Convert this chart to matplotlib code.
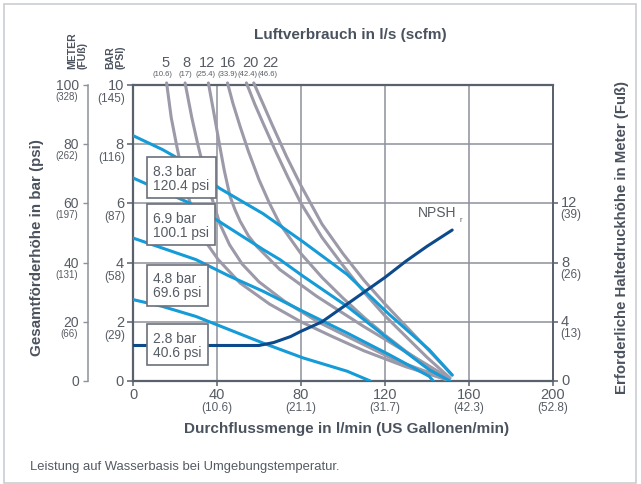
import matplotlib
matplotlib.use('Agg')
import matplotlib.pyplot as plt
from matplotlib.patches import Rectangle

plt.rcParams['font.family'] = ['Liberation Sans', 'DejaVu Sans']

# ---------------- data ----------------
flow_ticks = [0, 40, 80, 120, 160, 200]
gpm_labels = ['', '(10.6)', '(21.1)', '(31.7)', '(42.3)', '(52.8)']
bar_ticks = [0, 2, 4, 6, 8, 10]
psi_labels = ['', '(29)', '(58)', '(87)', '(116)', '(145)']
meter_ticks = [0, 20, 40, 60, 80, 100]
feet_labels = ['', '(66)', '(131)', '(197)', '(262)', '(328)']
npsh_ticks = [0, 4, 8, 12]
npsh_ft_labels = ['', '(13)', '(26)', '(39)']
air_ls = ['5', '8', '12', '16', '20', '22']
air_scfm = ['(10.6)', '(17)', '(25.4)', '(33.9)', '(42.4)', '(46.6)']

# air pressure curves (flow l/min, head bar)
p83_x = [0, 14, 22, 41, 62, 81, 102, 122, 141, 152]
p83_y = [8.29, 7.82, 7.5, 6.52, 5.65, 4.7, 3.6, 2.25, 1.06, 0.2]
p69_x = [0, 27, 41, 62, 70, 81, 102, 122, 141, 151]
p69_y = [6.86, 6.01, 5.39, 4.44, 4.1, 3.54, 2.52, 1.4, 0.38, 0.0]
p48_x = [0, 14, 30, 46, 62, 81, 102, 122, 141, 143]
p48_y = [4.83, 4.49, 4.1, 3.54, 3.03, 2.35, 1.62, 0.89, 0.16, 0.0]
p28_x = [0, 14, 30, 46, 62, 81, 102, 113]
p28_y = [2.75, 2.52, 2.18, 1.73, 1.28, 0.78, 0.33, 0.0]
pressure_labels = ['8.3 bar\n120.4 psi', '6.9 bar\n100.1 psi', '4.8 bar\n69.6 psi', '2.8 bar\n40.6 psi']

# air consumption curves (flow l/min, head bar)
a5_x = [16, 18.2, 20.8, 23, 26, 30, 35, 40.6, 51, 65, 80, 95, 110, 130, 149]
a5_y = [10.07, 8.9, 7.95, 7.2, 6.3, 5.4, 4.66, 4.1, 3.31, 2.6, 2.0, 1.5, 1.02, 0.48, 0.05]
a8_x = [24.8, 28, 31, 34, 37.5, 41.4, 46, 52, 60, 72, 88, 105, 125, 150]
a8_y = [10.07, 8.9, 7.95, 7.1, 6.2, 5.3, 4.6, 3.95, 3.35, 2.7, 2.0, 1.4, 0.7, 0.05]
a12_x = [35.9, 38.8, 41.4, 43.5, 46.2, 48.5, 51, 55, 58.9, 70, 87.5, 109.7, 133.5, 150]
a12_y = [10.07, 8.94, 7.9, 7.1, 6.24, 5.8, 5.4, 4.9, 4.55, 3.76, 2.86, 1.85, 0.83, 0.12]
a16_x = [45, 47.5, 51, 55, 60, 65, 70, 80, 90, 100, 110, 120, 130, 140, 150]
a16_y = [10.07, 9.4, 8.6, 7.75, 6.8, 6.0, 5.3, 4.3, 3.5, 2.8, 2.15, 1.55, 1.0, 0.5, 0.05]
a20_x = [54, 58, 62, 68, 74, 80, 90, 100, 110, 120, 130, 140, 151]
a20_y = [10.07, 9.35, 8.7, 7.75, 6.85, 6.0, 4.85, 3.9, 3.0, 2.2, 1.5, 0.8, 0.1]
a22_x = [57.5, 62, 66, 73, 80, 90, 100, 110, 120, 130, 140, 152]
a22_y = [10.07, 9.35, 8.7, 7.6, 6.6, 5.3, 4.3, 3.4, 2.6, 1.85, 1.1, 0.2]

# NPSHr (flow l/min, metres)
npsh_x = [0, 60, 67, 75, 80, 90, 100, 110, 120, 130, 140, 152]
npsh_m = [2.4, 2.4, 2.6, 3.0, 3.36, 4.0, 5.0, 6.0, 7.0, 8.1, 9.1, 10.2]

# ---------------- style ----------------
W, H = 641, 485
PT = 0.72  # points per pixel at 100 dpi
BLUE = '#159bd7'
DARK = '#0c4a8c'
GRAY = '#9c99a8'
SPINE = '#59616d'
GRID = '#8d929a'
TXT = '#4a525e'
NUM = '#575c64'


def fx(px):
    return px / W


def fy(py):
    return 1 - py / H


fig = plt.figure(figsize=(W / 100, H / 100), dpi=100)
fig.patches.append(Rectangle((fx(4), fy(484)), fx(632), 479 / H, transform=fig.transFigure,
                             fill=False, ec='#c9cdd3', lw=1.2))

ax = fig.add_axes([fx(133), fy(382), (553 - 133) / W, (382 - 86) / H])
ax.set_xlim(0, 200)
ax.set_ylim(0, 10)
ax.set_xticks(flow_ticks)
ax.set_yticks(bar_ticks)
ax.set_xticklabels([])
ax.set_yticklabels([])
ax.grid(True, color=GRID, lw=1.1)
ax.set_axisbelow(True)
ax.tick_params(axis='x', direction='out', length=5 * PT, width=1.1, color=SPINE)
ax.tick_params(axis='y', direction='out', length=6 * PT, width=1.1, color=SPINE)
for s in ['left', 'bottom', 'top']:
    ax.spines[s].set_color(SPINE)
    ax.spines[s].set_linewidth(1.6)
ax.spines['right'].set_color(GRID)
ax.spines['right'].set_linewidth(1.1)

# air consumption curves
for xs, ys in [(a5_x, a5_y), (a8_x, a8_y), (a12_x, a12_y), (a16_x, a16_y), (a20_x, a20_y), (a22_x, a22_y)]:
    ax.plot(xs, ys, color=GRAY, lw=2.2, solid_capstyle='round', solid_joinstyle='round', zorder=3, clip_on=False)

# pressure curves
for xs, ys in [(p83_x, p83_y), (p69_x, p69_y), (p48_x, p48_y), (p28_x, p28_y)]:
    ax.plot(xs, ys, color=BLUE, lw=2.2, solid_capstyle='round', solid_joinstyle='round', zorder=4)

# NPSH on right axis
axr = ax.twinx()
axr.set_ylim(0, 20)
axr.set_yticks(npsh_ticks)
axr.set_yticklabels([])
axr.tick_params(axis='y', direction='out', length=5 * PT, width=1.1, color=SPINE)
for s in ['left', 'bottom', 'top']:
    axr.spines[s].set_visible(False)
axr.spines['right'].set_color(SPINE)
axr.spines['right'].set_linewidth(1.4)
axr.plot(npsh_x, npsh_m, color=DARK, lw=2.2, solid_capstyle='round', solid_joinstyle='round', zorder=5)
axr.text(135.7, 11.4, 'NPSH', ha='left', va='center', fontsize=10, color=NUM)
axr.text(155.5, 10.9, 'r', ha='left', va='center', fontsize=5.5, color=NUM)

# meter axis (outer left)
axm = ax.twinx()
axm.set_ylim(0, 100)
axm.yaxis.tick_left()
axm.set_yticks(meter_ticks)
axm.set_yticklabels([])
axm.tick_params(axis='y', direction='out', length=5 * PT, width=1.0, color=GRID)
for s in ['right', 'bottom', 'top']:
    axm.spines[s].set_visible(False)
axm.spines['left'].set_visible(True)
axm.spines['left'].set_position(('outward', 45 * PT))
axm.spines['left'].set_color(GRID)
axm.spines['left'].set_linewidth(1.1)

# pressure boxes (on top)
box_y = [6.87, 5.28, 3.23, 1.23]
for lab, yy in zip(pressure_labels, box_y):
    axr.text(9.6, yy * 2, lab, ha='left', va='center', fontsize=10, color=NUM, linespacing=1.0, zorder=10,
             bbox=dict(boxstyle='square,pad=0.45', fc='white', ec='#6b717a', lw=1.2))

# tick labels
for v, sub in zip(bar_ticks, psi_labels):
    ax.annotate(str(v), xy=(0, v), xycoords=('axes fraction', 'data'), xytext=(-9 * PT, 0),
                textcoords='offset points', ha='right', va='center', fontsize=10.5, color=NUM)
    if sub:
        ax.annotate(sub, xy=(0, v), xycoords=('axes fraction', 'data'), xytext=(-8 * PT, -13 * PT),
                    textcoords='offset points', ha='right', va='center', fontsize=8.5, color=NUM)
for v, sub in zip(meter_ticks, feet_labels):
    axm.annotate(str(v), xy=(0, v), xycoords=('axes fraction', 'data'), xytext=(-54 * PT, 0),
                 textcoords='offset points', ha='right', va='center', fontsize=10, color=NUM)
    if sub:
        axm.annotate(sub, xy=(0, v), xycoords=('axes fraction', 'data'), xytext=(-55 * PT, -11 * PT),
                     textcoords='offset points', ha='right', va='center', fontsize=7, color=NUM)
for v, sub in zip(flow_ticks, gpm_labels):
    ax.annotate(str(v), xy=(v, 0), xycoords=('data', 'axes fraction'), xytext=(0, -13 * PT),
                textcoords='offset points', ha='center', va='center', fontsize=10.5, color=NUM)
    if sub:
        ax.annotate(sub, xy=(v, 0), xycoords=('data', 'axes fraction'), xytext=(0, -26 * PT),
                    textcoords='offset points', ha='center', va='center', fontsize=8.5, color=NUM)
for v, sub in zip(npsh_ticks, npsh_ft_labels):
    axr.annotate(str(v), xy=(1, v), xycoords=('axes fraction', 'data'), xytext=(8 * PT, 1 * PT),
                 textcoords='offset points', ha='left', va='center', fontsize=10.5, color=NUM)
    if sub:
        axr.annotate(sub, xy=(1, v), xycoords=('axes fraction', 'data'), xytext=(7 * PT, -11 * PT),
                     textcoords='offset points', ha='left', va='center', fontsize=8.5, color=NUM)

# air consumption labels on top
air_px = [166, 186, 207.5, 228, 250, 270]
air_sub_px = [162, 185, 205, 227, 247, 268]
for lab, sub, p1, p2 in zip(air_ls, air_scfm, air_px, air_sub_px):
    fig.text(fx(p1), fy(63), lab, ha='center', va='center', fontsize=10.5, color=NUM)
    fig.text(fx(p2), fy(75), sub, ha='center', va='center', fontsize=5.5, color=NUM)

# titles / axis labels
fig.text(fx(350), fy(35), 'Luftverbrauch in l/s (scfm)', ha='center', va='center',
         fontsize=11, fontweight='bold', color=TXT)
fig.text(fx(347), fy(429), 'Durchflussmenge in l/min (US Gallonen/min)', ha='center', va='center',
         fontsize=11, fontweight='bold', color=TXT)
fig.text(fx(37), fy(248), 'Gesamtförderhöhe in bar (psi)', ha='center', va='center', rotation=90,
         fontsize=10.9, fontweight='bold', color=TXT)
fig.text(fx(622), fy(238), 'Erforderliche Haltedruckhöhe in Meter (Fuß)', ha='center', va='center',
         rotation=90, fontsize=10.8, fontweight='bold', color=TXT)
fig.text(fx(77), fy(69), 'METER\n(FUß)', ha='center', va='bottom', rotation=90, multialignment='left',
         fontsize=7.5, fontweight='bold', color=TXT, linespacing=1.05)
fig.text(fx(115), fy(69), 'BAR\n(PSI)', ha='center', va='bottom', rotation=90, multialignment='left',
         fontsize=7.5, fontweight='bold', color=TXT, linespacing=1.05)
fig.text(fx(30), fy(467), 'Leistung auf Wasserbasis bei Umgebungstemperatur.', ha='left', va='center',
         fontsize=9.4, color='#555b63')

fig.savefig('out.png', dpi=100)
